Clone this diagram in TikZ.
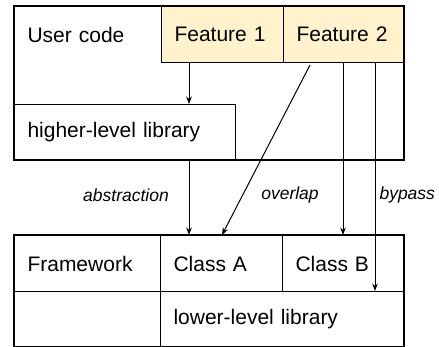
\documentclass[tikz,border=0pt]{standalone}
\usepackage{fontspec}
\setmainfont{Liberation Sans}
\usetikzlibrary{arrows.meta, calc, positioning}
\definecolor{myfeature}{RGB}{255, 242, 204}

\begin{document}
\begin{tikzpicture}[>=Stealth, x=1pt, y=-1pt,
    outer/.style={draw, line width=2.2pt},
    cell/.style={draw, line width=1pt, anchor=north west, inner xsep=13pt, inner ysep=0pt,
        align=left, minimum height=56pt, font=\fontsize{21}{24}\selectfont},
    feat/.style={cell, fill=myfeature},
    tag/.style={font=\fontsize{17.5}{20}\selectfont\itshape},
    link/.style={->, line width=1pt}]
\useasboundingbox (0,0) rectangle (439,347);

% User code
\node[cell, draw=none, text width=121pt] (user) at (14,6) {User code};
\node[feat, text width=96pt] (feat1) at (161,6) {Feature 1};
\node[feat, text width=95pt] (feat2) at (283,6) {Feature 2};
\node[cell, text width=195pt] (hilib) at (14,104) {higher-level library};
\draw[outer] (14,6) rectangle (404,160);

% Framework
\node[cell, text width=120pt] (fw) at (14,235) {Framework};
\node[cell, text width=96pt] (classA) at (160,235) {Class A};
\node[cell, text width=96pt] (classB) at (282,235) {Class B};
\node[cell, text width=218pt] (lolib) at (160,291) {lower-level library};
\draw[outer] (14,235) rectangle (404,347);

% Connectors
\coordinate (xa) at (189,0);
\coordinate (xo) at (310,0);
\coordinate (xo2) at (222,0);
\coordinate (xb) at (343,0);
\coordinate (xp) at (375,0);
\draw[link] (xa |- feat1.south) -- (xa |- hilib.north);
\draw[link] (xa |- hilib.south) -- (xa |- classA.north);
\draw[link] ($(xo |- feat2.south)+(0,2)$) -- (xo2 |- classA.north);
\draw[link] (xb |- feat2.south) -- (xb |- classB.north);
\draw[link] (xp |- feat2.south) -- (xp |- lolib.north);

% Labels
\node[tag] (abst) at (126,195) {abstraction};
\node[tag] (ovl) at (290,195) {overlap};
\node[tag, anchor=west] (byp) at (376,195) {bypass};
\end{tikzpicture}
\end{document}
